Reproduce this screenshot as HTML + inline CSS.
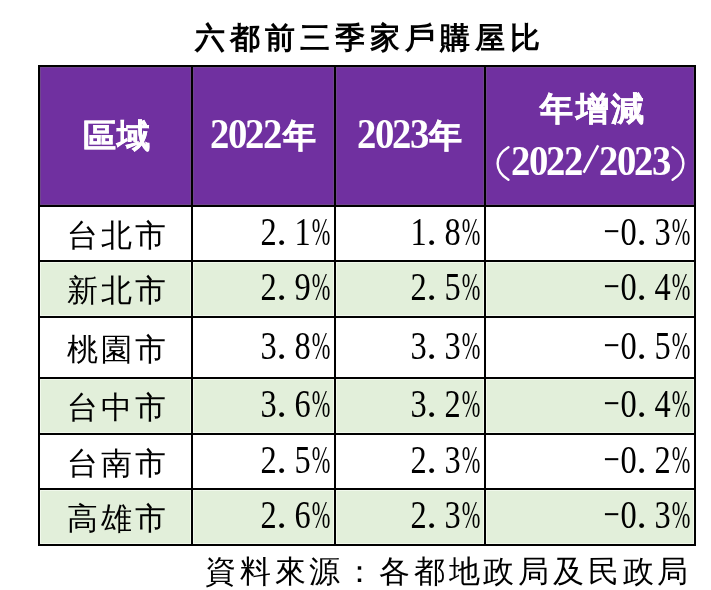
<!DOCTYPE html>
<html lang="zh-Hant"><head><meta charset="utf-8"><title>六都前三季家戶購屋比</title>
<style>
*{margin:0;padding:0;box-sizing:border-box}
html,body{width:711px;height:590px;background:#fff;overflow:hidden}
body{position:relative;font-family:"Liberation Serif",serif;color:#000}
table{position:absolute;left:38px;top:65px;border-collapse:separate;border-spacing:2px;background:#000;table-layout:fixed}
td,th{position:relative;padding:0;overflow:visible}
th{background:#7030A0;box-shadow:inset 0 0 0 1px #71468f;font-weight:normal}
tr.g td{background:#E2EFDA;box-shadow:inset 0 0 0 1px #f1f8ec}
tr.w td{background:#fff}
.t{position:absolute;white-space:nowrap;will-change:transform}
.n{position:absolute;white-space:nowrap;will-change:transform;font-family:"Liberation Serif",serif;font-size:41px;line-height:40px;height:40px}
.n i{font-style:normal;display:inline-flex;justify-content:center;width:17px;overflow:visible}
.n i b{font-weight:normal;display:inline-block}
.n .d b{transform:translateX(-1.7px) scaleX(0.79)}
.n .p b{transform:scaleX(0.545)}
.n .o{justify-content:flex-start}
.n .o b{margin-left:-2.6px}
.n .m b{transform:translateX(-2px) scaleX(0.70)}
.h{color:#fff;font-weight:bold;-webkit-text-stroke:0.5px #fff}
.hn{position:absolute;white-space:nowrap;will-change:transform;font-family:"Liberation Serif",serif;font-weight:bold;font-size:43px;line-height:43px;color:#fff}
.hn i{font-style:normal;display:inline-flex;justify-content:center;width:17.5px}
.hn i b{display:inline-block;transform:scaleX(0.9)}
.hn i svg{display:block}
.hn i.s{vertical-align:top}
.cj{font-size:31px;line-height:32px;letter-spacing:3px}
.hc{font-size:33px;line-height:36px}
</style></head><body>
<div class="t" style="left:195px;top:20px;font-size:30px;line-height:36px;letter-spacing:5px;font-weight:bold">六都前三季家戶購屋比</div>
<table>
<colgroup><col style="width:151px"><col style="width:141px"><col style="width:148px"><col style="width:208px"></colgroup>
<tr style="height:138px"><th><div class="t h hc" style="left:43px;top:51px;letter-spacing:1px">區域</div></th><th><div class="hn" style="left:18px;top:45px"><i><b>2</b></i><i><b>0</b></i><i><b>2</b></i><i><b>2</b></i></div><div class="t h hc" style="left:89.5px;top:51px">年</div></th><th><div class="hn" style="left:22px;top:45px"><i><b>2</b></i><i><b>0</b></i><i><b>2</b></i><i><b>3</b></i></div><div class="t h hc" style="left:93px;top:51px">年</div></th><th><div class="t h hc" style="left:54px;top:24px;letter-spacing:2.5px">年增減</div><svg style="position:absolute;left:8px;top:77.5px" width="18" height="37" viewBox="0 0 18 37"><path d="M14.4,2.2 C0,11 0,26 14.4,34.8" stroke="#fff" stroke-width="2.4" fill="none" stroke-linecap="round"/></svg><div class="hn" style="left:25.5px;top:72px"><i style="width:17.6px"><b>2</b></i><i style="width:17.6px"><b>0</b></i><i style="width:17.6px"><b>2</b></i><i style="width:17.6px"><b>2</b></i><i class="s" style="width:17.6px"><svg width="17.6" height="43" viewBox="0 0 17.6 43" style="overflow:visible"><path d="M1.6,33.6 L16.2,6.4" stroke="#fff" stroke-width="2.6" fill="none"/></svg></i><i style="width:17.6px"><b>2</b></i><i style="width:17.6px"><b>0</b></i><i style="width:17.6px"><b>2</b></i><i style="width:17.6px"><b>3</b></i></div><svg style="position:absolute;left:183px;top:77.5px" width="18" height="37" viewBox="0 0 18 37"><path d="M3.6,2.2 C18,11 18,26 3.6,34.8" stroke="#fff" stroke-width="2.4" fill="none" stroke-linecap="round"/></svg></th></tr>
<tr class="w" style="height:53px"><td><div class="t cj" style="left:26.5px;top:12.5px">台北市</div></td><td><div class="n" style="left:69px;top:4px"><i class="d"><b>2</b></i><i class="o"><b>.</b></i><i class="d"><b>1</b></i><i class="p"><b>%</b></i></div></td><td><div class="n" style="left:76px;top:4px"><i class="d"><b>1</b></i><i class="o"><b>.</b></i><i class="d"><b>8</b></i><i class="p"><b>%</b></i></div></td><td><div class="n" style="left:119px;top:4px"><i class="m"><b>&#8722;</b></i><i class="d"><b>0</b></i><i class="o"><b>.</b></i><i class="d"><b>3</b></i><i class="p"><b>%</b></i></div></td></tr>
<tr class="g" style="height:54px"><td><div class="t cj" style="left:26.5px;top:12.5px">新北市</div></td><td><div class="n" style="left:69px;top:4px"><i class="d"><b>2</b></i><i class="o"><b>.</b></i><i class="d"><b>9</b></i><i class="p"><b>%</b></i></div></td><td><div class="n" style="left:76px;top:4px"><i class="d"><b>2</b></i><i class="o"><b>.</b></i><i class="d"><b>5</b></i><i class="p"><b>%</b></i></div></td><td><div class="n" style="left:119px;top:4px"><i class="m"><b>&#8722;</b></i><i class="d"><b>0</b></i><i class="o"><b>.</b></i><i class="d"><b>4</b></i><i class="p"><b>%</b></i></div></td></tr>
<tr class="w" style="height:59px"><td><div class="t cj" style="left:26.5px;top:15.5px">桃園市</div></td><td><div class="n" style="left:69px;top:7px"><i class="d"><b>3</b></i><i class="o"><b>.</b></i><i class="d"><b>8</b></i><i class="p"><b>%</b></i></div></td><td><div class="n" style="left:76px;top:7px"><i class="d"><b>3</b></i><i class="o"><b>.</b></i><i class="d"><b>3</b></i><i class="p"><b>%</b></i></div></td><td><div class="n" style="left:119px;top:7px"><i class="m"><b>&#8722;</b></i><i class="d"><b>0</b></i><i class="o"><b>.</b></i><i class="d"><b>5</b></i><i class="p"><b>%</b></i></div></td></tr>
<tr class="g" style="height:54px"><td><div class="t cj" style="left:26.5px;top:12.5px">台中市</div></td><td><div class="n" style="left:69px;top:4px"><i class="d"><b>3</b></i><i class="o"><b>.</b></i><i class="d"><b>6</b></i><i class="p"><b>%</b></i></div></td><td><div class="n" style="left:76px;top:4px"><i class="d"><b>3</b></i><i class="o"><b>.</b></i><i class="d"><b>2</b></i><i class="p"><b>%</b></i></div></td><td><div class="n" style="left:119px;top:4px"><i class="m"><b>&#8722;</b></i><i class="d"><b>0</b></i><i class="o"><b>.</b></i><i class="d"><b>4</b></i><i class="p"><b>%</b></i></div></td></tr>
<tr class="w" style="height:53px"><td><div class="t cj" style="left:26.5px;top:12.5px">台南市</div></td><td><div class="n" style="left:69px;top:4px"><i class="d"><b>2</b></i><i class="o"><b>.</b></i><i class="d"><b>5</b></i><i class="p"><b>%</b></i></div></td><td><div class="n" style="left:76px;top:4px"><i class="d"><b>2</b></i><i class="o"><b>.</b></i><i class="d"><b>3</b></i><i class="p"><b>%</b></i></div></td><td><div class="n" style="left:119px;top:4px"><i class="m"><b>&#8722;</b></i><i class="d"><b>0</b></i><i class="o"><b>.</b></i><i class="d"><b>2</b></i><i class="p"><b>%</b></i></div></td></tr>
<tr class="g" style="height:54px"><td><div class="t cj" style="left:26.5px;top:12.5px">高雄市</div></td><td><div class="n" style="left:69px;top:4px"><i class="d"><b>2</b></i><i class="o"><b>.</b></i><i class="d"><b>6</b></i><i class="p"><b>%</b></i></div></td><td><div class="n" style="left:76px;top:4px"><i class="d"><b>2</b></i><i class="o"><b>.</b></i><i class="d"><b>3</b></i><i class="p"><b>%</b></i></div></td><td><div class="n" style="left:119px;top:4px"><i class="m"><b>&#8722;</b></i><i class="d"><b>0</b></i><i class="o"><b>.</b></i><i class="d"><b>3</b></i><i class="p"><b>%</b></i></div></td></tr>
</table>
<div class="t" style="left:205px;top:555px;font-size:31px;line-height:34px;letter-spacing:3.8px">資料來源：各都地政局及民政局</div>
</body></html>
